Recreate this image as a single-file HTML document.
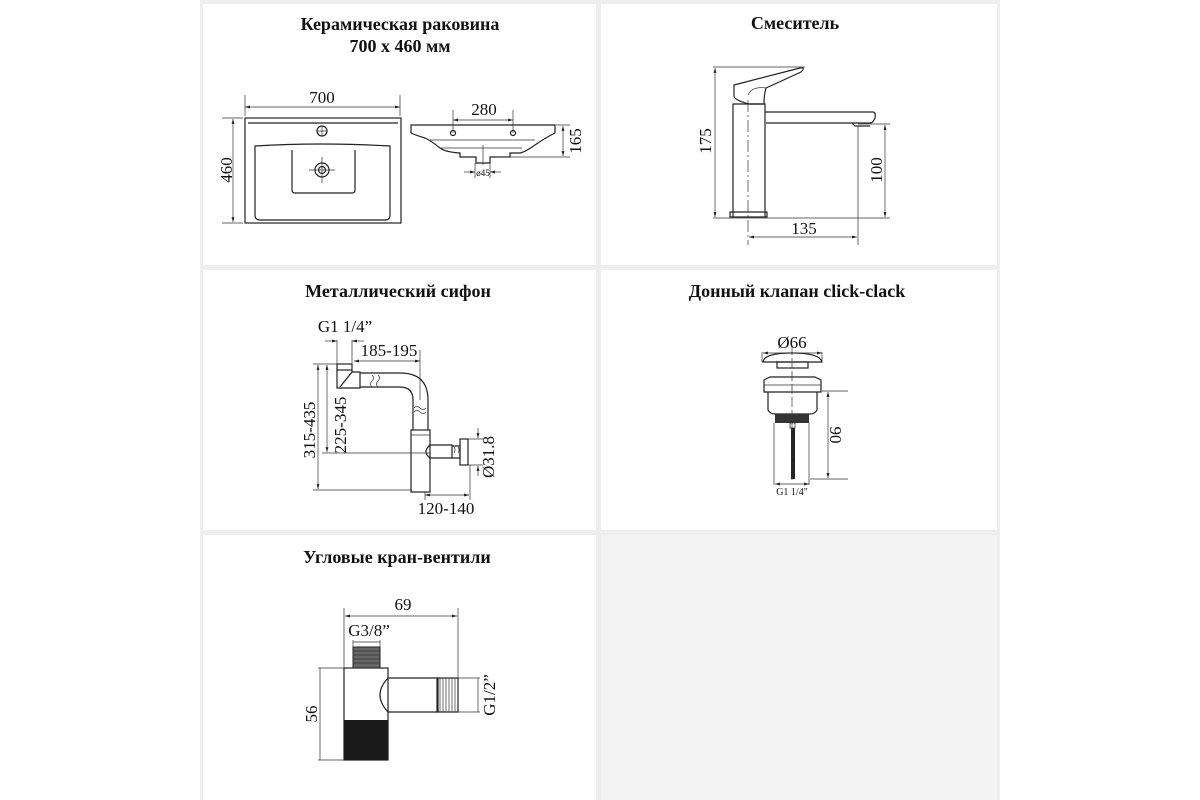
<!DOCTYPE html>
<html><head><meta charset="utf-8"><style>
html,body{margin:0;padding:0;background:#fff;}
svg{display:block}
text{font-family:"Liberation Serif","DejaVu Serif",serif;fill:#111}
.t{font-weight:bold;font-size:18px;text-anchor:middle}
.d{font-size:17px;text-anchor:middle}
.s{font-size:9px;text-anchor:middle}
.l{fill:none;stroke:#222;stroke-width:1.2}
.th{fill:none;stroke:#333;stroke-width:0.7}
</style></head><body>
<svg width="1200" height="800" viewBox="0 0 1200 800" xmlns="http://www.w3.org/2000/svg">
<defs>
<marker id="a" viewBox="0 0 10 10" refX="10" refY="5" markerWidth="7" markerHeight="7" orient="auto-start-reverse"><path d="M0,2 L10,5 L0,8z" fill="#222"/></marker>
</defs>
<rect x="200" y="0" width="800" height="800" fill="#eeeeee"/>
<rect x="203" y="4" width="393" height="261" fill="#fff"/>
<rect x="601" y="4" width="396" height="261" fill="#fff"/>
<rect x="203" y="270" width="393" height="260" fill="#fff"/>
<rect x="601" y="270" width="396" height="260" fill="#fff"/>
<rect x="203" y="535" width="393" height="265" fill="#fff"/>
<rect x="601" y="535" width="396" height="265" fill="#f3f3f3"/>

<text class="t" x="400" y="30">Керамическая раковина</text>
<text class="t" x="400" y="52">700 x 460 мм</text>
<rect class="l" x="245" y="118" width="156" height="105"/>
<path class="l" d="M248,123 H398"/>
<path class="l" d="M255,146 Q320,142 390,146 V215 Q390,220 385,220 H260 Q255,220 255,215 Z"/>
<path class="l" d="M292,150 V190 Q292,193 295,193 H352 Q355,193 355,190 V150"/>
<circle class="l" cx="322" cy="170" r="7"/><circle class="l" cx="322" cy="170" r="3.5"/>
<path class="th" d="M309,170 H335 M322,157 V183"/>
<circle class="l" cx="322" cy="131" r="5"/><path class="th" d="M317,131 H327 M322,126 V136"/>
<path class="th" d="M245,95 V116 M400,95 V116"/>
<path class="th" d="M245,107 H400" marker-start="url(#a)" marker-end="url(#a)"/>
<text class="d" x="322" y="103">700</text>
<path class="th" d="M222,118 H243 M222,223 H243"/>
<path class="th" d="M233,119 V222" marker-start="url(#a)" marker-end="url(#a)"/>
<text class="d" transform="translate(232,170) rotate(-90)">460</text>
<path class="l" d="M411,125 H555 V133 Q545,138 535,145 Q525,152 520,153 H510 V157 H490 V163 H476 V157 H460 V153 Q445,152 440,148 Q430,140 425,138 Q415,135 411,133 Z"/>
<path class="th" d="M430,140 H535 M440,148 H522"/>
<circle class="l" cx="453" cy="133" r="2.5"/><circle class="l" cx="513" cy="133" r="2.5"/>
<path class="th" d="M453,110 V133 M513,110 V133"/>
<path class="th" d="M453,120 H513" marker-start="url(#a)" marker-end="url(#a)"/>
<text class="d" x="484" y="115">280</text>
<path class="th" d="M556,125 H570 M495,157 H570"/>
<path class="th" d="M563,126 V156" marker-start="url(#a)" marker-end="url(#a)"/>
<text class="d" transform="translate(581,141) rotate(-90)">165</text>
<path class="th" d="M475,163 V178 M490,163 V178 M483,145 V165"/>
<path class="th" d="M464,172 H475" marker-end="url(#a)"/><path class="th" d="M501,172 H490" marker-end="url(#a)"/>
<text class="s" x="483" y="176">ø45</text>

<text class="t" x="795" y="29">Смеситель</text>
<path class="l" d="M733,217 V104 H765 V217"/>
<path class="l" d="M730,217 V212 H767 V217 Z"/>
<path class="l" d="M765,112 H873 Q876,112 875,118 Q873,123 870,123 H766"/>
<path class="l" d="M852,123 L855,126 H870"/>
<path class="l" d="M734,85 L800,68 Q806,67 801,72 L766,88 Q764,95 764,104 H749 Q734,100 734,96 Z"/>
<path class="th" d="M748,95 Q752,86 766,88"/>
<path class="th" d="M748,100 V245" stroke-dasharray="12,3,2,3"/>
<path class="th" d="M713,67 H805 M713,218 H890 M858,124 H890 M858,126 V245"/>
<path class="th" d="M715,68 V217" marker-start="url(#a)" marker-end="url(#a)"/>
<text class="d" transform="translate(711,141) rotate(-90)">175</text>
<path class="th" d="M885,125 V217" marker-start="url(#a)" marker-end="url(#a)"/>
<text class="d" transform="translate(882,170) rotate(-90)">100</text>
<path class="th" d="M749,237 H857" marker-start="url(#a)" marker-end="url(#a)"/>
<text class="d" x="804" y="234">135</text>

<text class="t" x="398" y="297">Металлический сифон</text>
<rect class="l" x="337" y="364" width="15" height="6"/>
<path class="l" d="M337,370 V388 H360 V372 H352 V370"/>
<path class="l" d="M340,387 L352,372"/>
<path class="l" d="M360,373 H400 Q428,373 428,400 V430 M360,387 H400 Q413,387 413,400 V430"/>
<path class="th" d="M372,375 q3,3 0,6 q-3,3 0,6 M378,375 q3,3 0,6 q-3,3 0,6 M414,408 q3,-3 6,0 q3,3 6,0 M414,412 q3,-3 6,0 q3,3 6,0"/>
<rect class="l" x="411" y="430" width="19" height="62"/>
<path class="th" d="M411,435 H430"/>
<path class="l" d="M430,445 H452 V458 H430 M430,445 Q422,452 430,458"/>
<path class="l" d="M452,446 H460 V458 H452"/>
<rect class="l" x="460" y="439" width="8" height="26"/>
<path class="th" d="M454,447 q2,3 0,6 M458,447 q2,3 0,6"/>
<path class="th" d="M313,364 H340 M313,490 H412 M322,453 H430"/>
<path class="th" d="M318,365 V489" marker-start="url(#a)" marker-end="url(#a)"/>
<text class="d" transform="translate(315,430) rotate(-90)">315-435</text>
<path class="th" d="M327,365 V452" marker-start="url(#a)" marker-end="url(#a)"/>
<text class="d" transform="translate(346,425) rotate(-90)">225-345</text>
<path class="th" d="M337,340 V364 M352,340 V364 M420,350 V400"/>
<path class="th" d="M325,341 H337" marker-end="url(#a)"/><path class="th" d="M364,341 H352" marker-end="url(#a)"/>
<text class="d" x="345" y="332">G1 1/4”</text>
<path class="th" d="M354,361 H420" marker-start="url(#a)" marker-end="url(#a)"/>
<text class="d" x="389" y="356">185-195</text>
<path class="th" d="M425,492 V500 M470,465 V500 M468,439 H483 M468,465 H483"/>
<path class="th" d="M425,495 H469" marker-start="url(#a)" marker-end="url(#a)"/>
<text class="d" x="446" y="514">120-140</text>
<path class="th" d="M478,428 V438" marker-end="url(#a)"/><path class="th" d="M478,476 V466" marker-end="url(#a)"/>
<text class="d" transform="translate(494,457) rotate(-90)">Ø31.8</text>

<text class="t" x="797" y="297">Донный клапан click-clack</text>
<path class="l" d="M763,362 Q764,353 792,353 Q820,353 822,362 Z"/>
<rect class="l" x="777" y="362" width="31" height="6"/>
<path class="l" d="M764,380 L770,377 H815 L821,380 V392 H764 Z"/>
<path class="th" d="M764,385 H821"/>
<path class="l" d="M768,392 V410 Q770,414 775,414 H810 Q815,414 817,410 V392"/>
<rect x="775" y="414" width="34" height="9" fill="#333"/>
<rect x="790" y="423" width="5" height="5" fill="none" stroke="#333" stroke-width="0.8"/>
<rect x="791" y="428" width="4" height="51" fill="#222"/>
<path class="th" d="M774,423 V485 M809,423 V485"/>
<path class="th" d="M792,345 V480" stroke-dasharray="10,3"/>
<path class="th" d="M762,352 V362 M822,352 V362"/>
<path class="th" d="M763,353 H822" marker-start="url(#a)" marker-end="url(#a)"/>
<text class="d" x="792" y="348">Ø66</text>
<path class="th" d="M822,391 H848 M810,479 H848"/>
<path class="th" d="M828,392 V478" marker-start="url(#a)" marker-end="url(#a)"/>
<text class="d" transform="translate(830,435) rotate(90)">90</text>
<path class="th" d="M775,484 H809" marker-start="url(#a)" marker-end="url(#a)"/>
<text class="s" x="792" y="495" style="font-size:10px">G1 1/4"</text>

<text class="t" x="397" y="563">Угловые кран-вентили</text>
<rect class="l" x="344" y="668" width="44" height="92"/>
<rect x="344" y="720" width="44" height="40" fill="#1a1a1a"/>
<rect x="353" y="647" width="27" height="21" fill="#666" stroke="#222"/>
<path class="th" d="M353,651 H380 M353,655 H380 M353,659 H380 M353,663 H380" stroke="#aaa"/>
<path class="l" d="M388,678 H438 V712 H388 M388,678 Q372,695 388,712"/>
<rect class="l" x="437" y="678" width="21" height="34"/>
<path class="th" d="M440,678 V712 M443,678 V712 M446,678 V712 M449,678 V712 M452,678 V712 M455,678 V712"/>
<path class="th" d="M344,608 V668 M458,608 V678"/>
<path class="th" d="M345,616 H457" marker-start="url(#a)" marker-end="url(#a)"/>
<text class="d" x="403" y="610">69</text>
<path class="th" d="M353,640 V647 M380,640 V647 M353,642 H380"/>
<text class="d" x="369" y="636">G3/8”</text>
<path class="th" d="M318,668 H344 M318,760 H344 M320,668 V760"/>
<text class="d" transform="translate(317,714) rotate(-90)">56</text>
<path class="th" d="M458,678 H480 M458,712 H480 M478,678 V712"/>
<text class="d" transform="translate(495,695) rotate(-90)">G1/2”</text>
</svg>
</body></html>
